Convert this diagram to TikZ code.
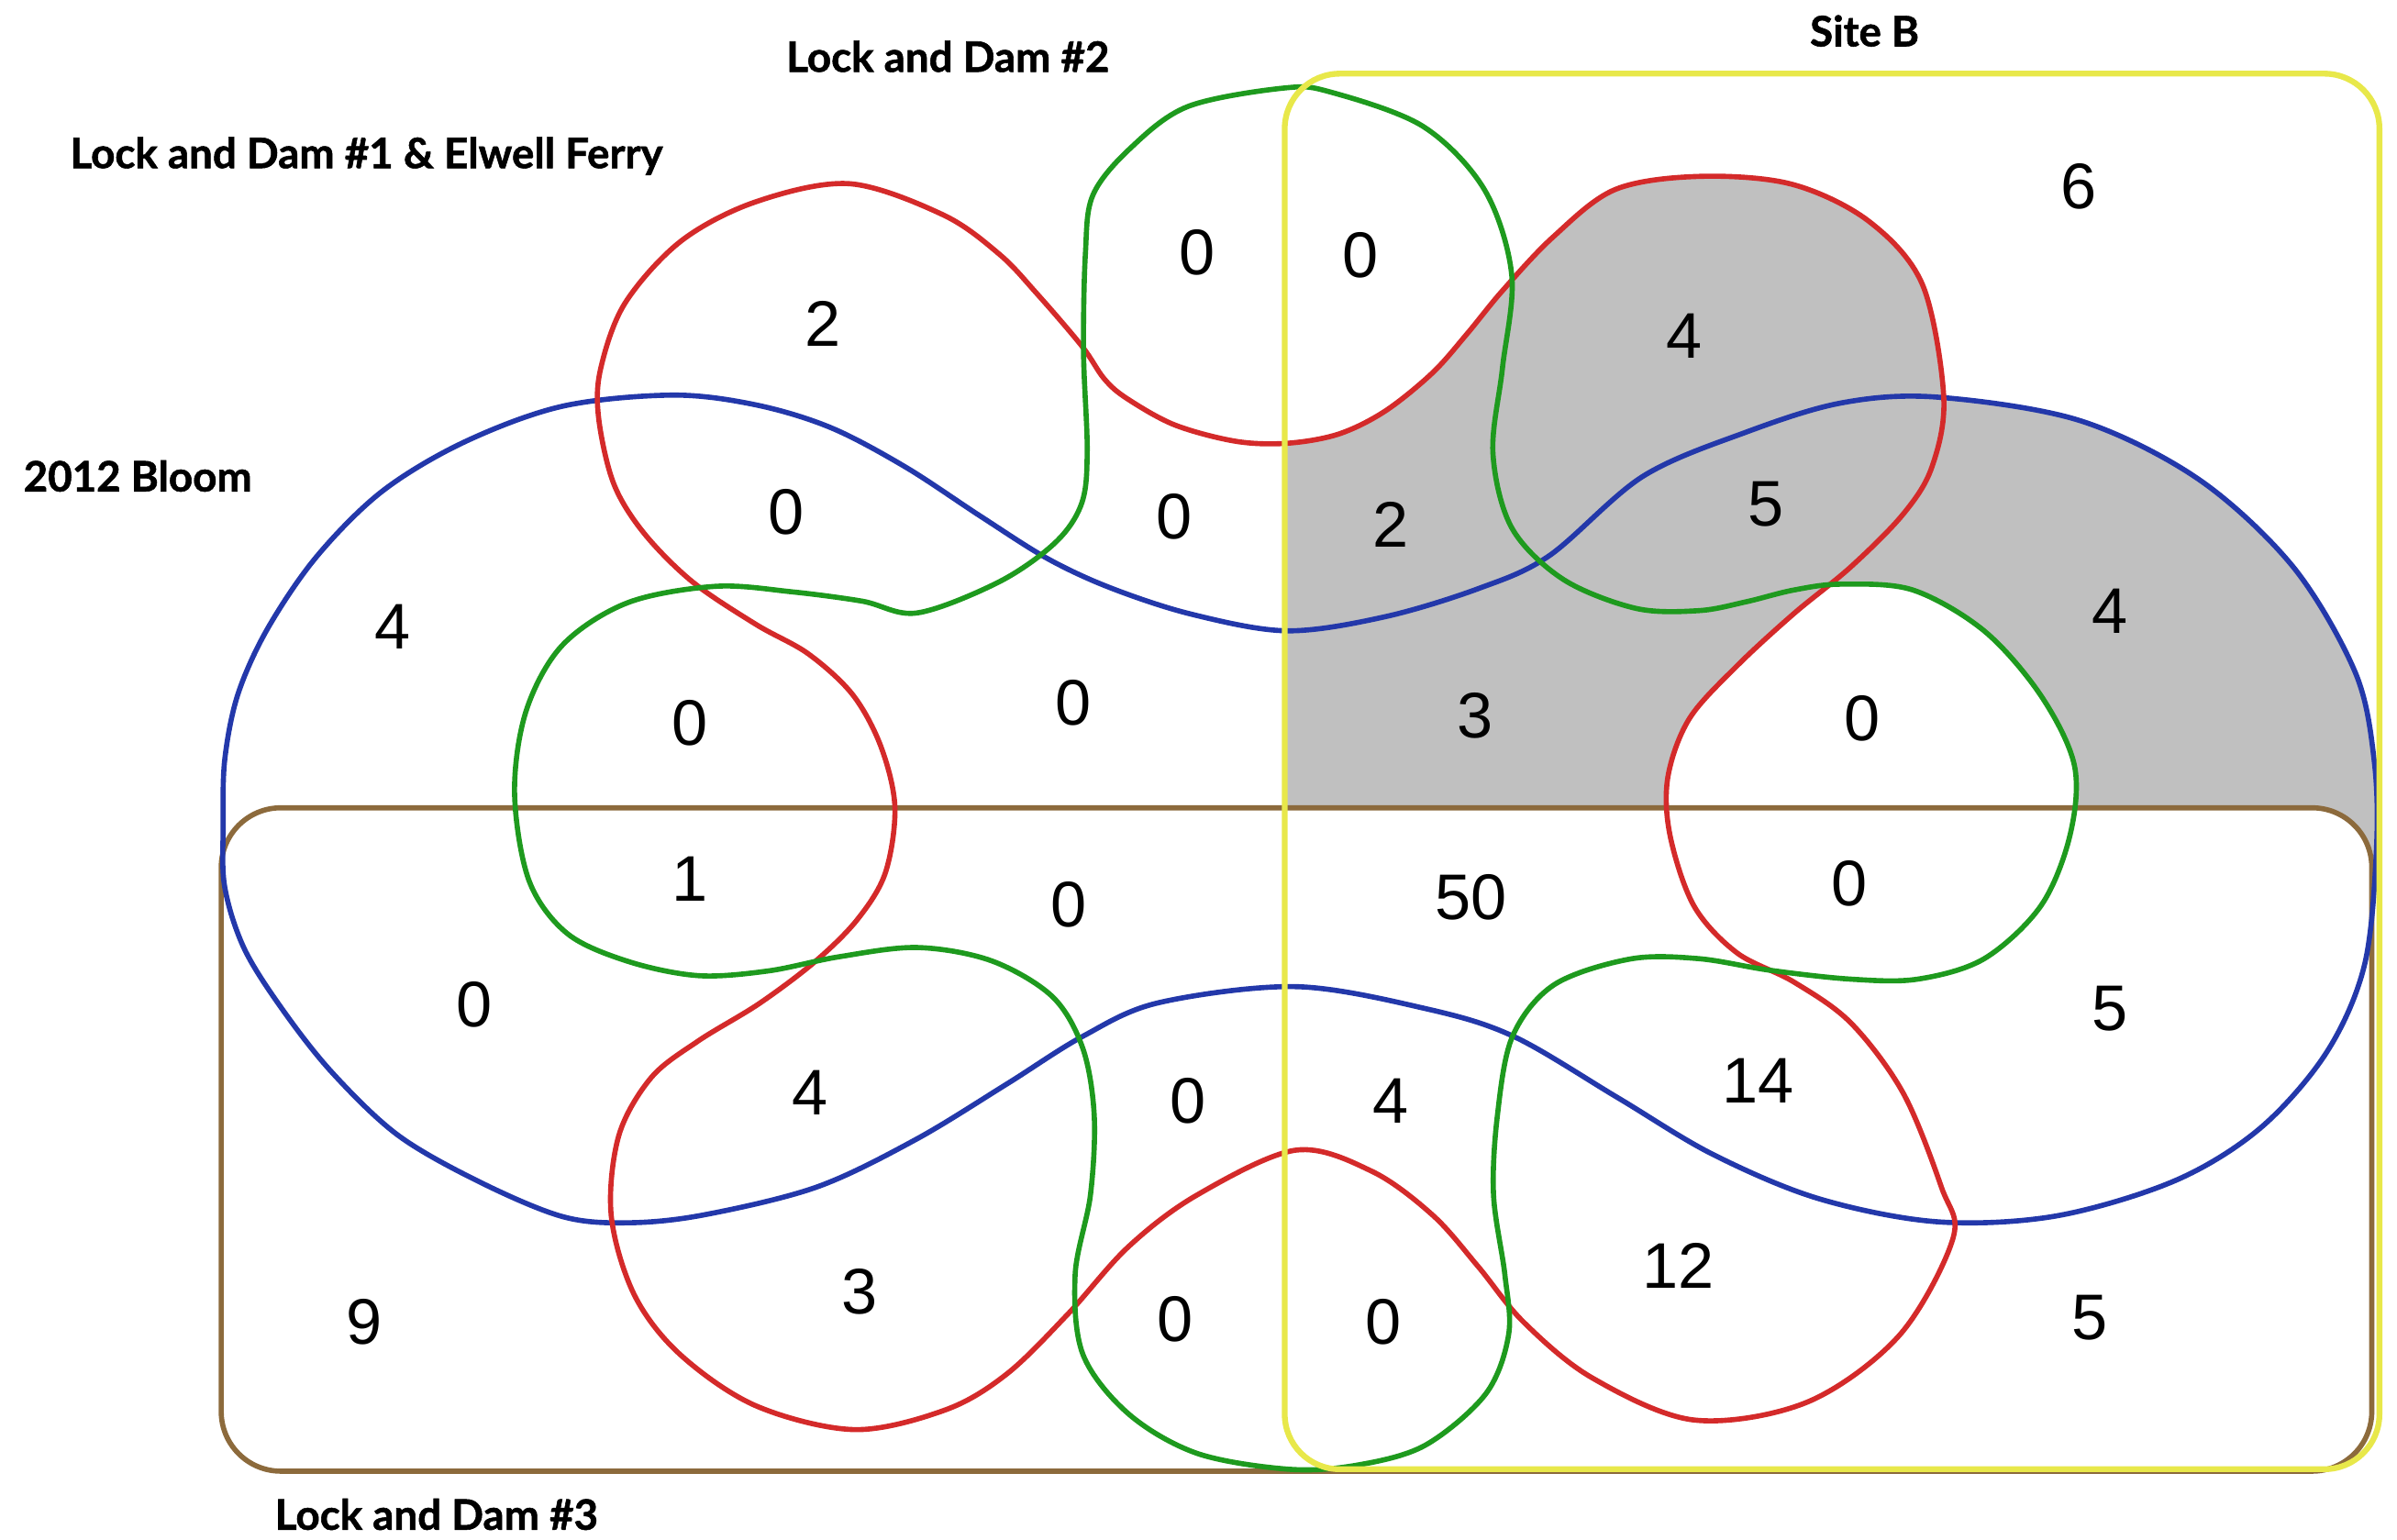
\documentclass[tikz,border=0pt]{standalone}
\usepackage{fontspec}
\setmainfont{Liberation Sans}
\newfontfamily\titlefont{Lato}[BoldFeatures={FakeBold=1.2}]
\definecolor{vblue}{HTML}{2338AA}
\definecolor{vred}{HTML}{D42A2A}
\definecolor{vgreen}{HTML}{1E9A1E}
\definecolor{vyellow}{HTML}{E8E84A}
\definecolor{vbrown}{HTML}{8C6A3C}
\definecolor{vgray}{HTML}{C0C0C0}
\begin{document}
\begin{tikzpicture}[x=0.016665cm,y=-0.016665cm,
  curve/.style={line width=1.6pt},
  num/.style={font=\fontsize{20}{24}\selectfont, inner sep=0pt},
  ttl/.style={font=\titlefont\bfseries\fontsize{13}{16}\selectfont, inner sep=0pt, anchor=base west}]
\useasboundingbox (0,0) rectangle (1568,1007.5);
\fill[white] (0,0) rectangle (1568,1007.5);

\def\bluepath{plot[smooth cycle, tension=0.55] coordinates {
 (146,540) (147,497.2) (155.6,454.3) (174.9,411.5) (207,364.3) (249.9,321.5) (303.5,289.3) (367.8,265.8) (440,258.5)
 (494.5,264.9) (543.5,279.8) (592.4,305.6) (641.5,337.8) (685.5,365.6) (727.2,384.9) (780,402) (842,412.7) (906,403.5)
 (967.3,385) (1013.4,363.6) (1074.6,311.7) (1142.3,282.7) (1204.6,263.6) (1266.8,259.8) (1360,275) (1438,313.4)
 (1500,370.8) (1540.6,439.7) (1553,497) (1554.6,554.5) (1546.8,631) (1522,688.4) (1478.4,738.2) (1422.4,772.6)
 (1344.6,795.6) (1266.8,799.3) (1189,784) (1120,755) (1058,718) (990,678) (932.2,659.8) (847.6,645.5) (758,656)
 (708.3,678) (658.6,709.2) (598.9,745.6) (534,776.7) (459.5,795) (410,800) (367.8,795.9) (314.2,773.5) (260.6,742.9)
 (217.8,702.3) (185.6,661.6) (159.9,620.9) (147,580.3)}}

\def\redpath{plot[smooth cycle, tension=0.55] coordinates {
 (842,290) (875.6,284) (906,269) (937,244) (960,218) (983,190) (1016,155) (1056.5,124) (1111.8,115.4) (1172,120.5)
 (1222.3,144.6) (1257.5,186) (1271.5,259.8) (1263.7,305.7) (1245,336.3) (1210.8,370.8) (1173.5,401.4) (1136.1,435.8)
 (1105,470.3) (1091,508.6) (1092.5,546.8) (1108.1,592.7) (1136.1,623.3) (1173.5,642.5) (1210.8,669.3) (1245,715.2)
 (1269.9,776.5) (1277.6,810) (1242.4,873.7) (1182,917.4) (1108,929) (1041.6,901.5) (996.8,865.1) (967,828.7) (937.2,795)
 (897.4,766.3) (847.5,752.5) (782.9,781.9) (738.1,815.7) (698.3,860) (658.6,898.9) (618.7,922.3) (559,935.3) (494.4,919.7)
 (444.6,885.9) (414.8,846.9) (399.8,795) (404.8,742.9) (426,705) (456.8,681) (496.6,656.6) (533.3,629) (560.9,601.5)
 (579.2,570.9) (585.4,528) (576.2,488.3) (557.8,454.5) (528.8,427.8) (494.5,408.5) (452.9,380.6) (421,348.5) (401.4,316.3)
 (391.6,273.5) (392.9,241.3) (408.8,198.4) (445.5,157.7) (494.5,132) (555.7,120.2) (617,140.6) (653.7,166.3) (678.2,192)
 (707.6,226.3) (722.3,247.8) (737,260.6) (768.4,278) (808.3,288.7)}}

\def\greenpath{plot[smooth cycle, tension=0.55] coordinates {
 (777,69.7) (840,57.6) (870.6,60.3) (930.9,82.7) (971,124) (988.9,180) (982.8,241) (976.6,296.4) (988.9,345.3) (1022.5,379)
 (1070,398) (1111.3,399.5) (1142.3,393.7) (1173.5,386) (1204.6,382.2) (1251.3,386) (1298,412.8) (1335,455) (1357,500.9)
 (1354,546.8) (1335,592.7) (1298,627.2) (1254.4,640.6) (1210.8,640.6) (1157.9,634.8) (1111.3,627.2) (1066.5,627.4)
 (1016.7,644.2) (989.4,678) (979.5,730) (977,781.9) (984.4,833.9) (986.9,872.9) (972,911.8) (932.2,945.6) (887.4,958.6)
 (842.6,961.2) (782.9,950.8) (738.1,924.9) (708.3,885.9) (703.3,833.9) (713.3,781.9) (715.8,730) (708.3,685.8) (688.4,652)
 (648.6,628.6) (600,619.9) (548.6,626) (502.7,635.2) (456.8,638.3) (410.9,629) (371,610.7) (346,576) (336.6,518.6)
 (344.2,465) (367.8,422.2) (410.6,394.3) (468,383.6) (518,387.2) (564,393.3) (600,401) (653.7,380.6) (690.4,354.9)
 (707.6,329.2) (711.2,294.9) (708.8,230.6) (710,166.3) (714.9,127.7) (739.4,97)}}

% shaded region
\begin{scope}
 \clip (840,48) rectangle (1557,962);
 \fill[vgray] \bluepath;
 \fill[white] \greenpath;
 \fill[vgray] \redpath;
\end{scope}
\fill[white, rounded corners=0.65cm] (144.7,528.5) rectangle (1551.5,962.5);

% outlines
\draw[curve, vbrown, rounded corners=0.65cm] (144.7,528.5) rectangle (1551.5,962.5);
\draw[curve, vblue] \bluepath;
\draw[curve, vred] \redpath;
\draw[curve, vgreen] \greenpath;
\draw[line width=1.8pt, vyellow, rounded corners=0.6cm] (840.4,48.2) rectangle (1556.5,961.2);

% numbers
\node[num] (a1) at (783,165) {0};
\node[num] (a2) at (890,167) {0};
\node[num] (a3) at (538,212) {2};
\node[num] (a4) at (1102,220) {4};
\node[num] (a5) at (1360,122) {6};
\node[num] (a6) at (514,335) {0};
\node[num] (a7) at (768,338) {0};
\node[num] (a8) at (910,343) {2};
\node[num] (a9) at (1155,330) {5};
\node[num] (a10) at (257,410) {4};
\node[num] (a11) at (1380,400) {4};
\node[num] (a12) at (451,473) {0};
\node[num] (a13) at (702,460) {0};
\node[num] (a14) at (965,468) {3};
\node[num] (a15) at (1218,470) {0};
\node[num] (a16) at (451,575) {1};
\node[num] (a17) at (699,592) {0};
\node[num] (a18) at (962,587) {50};
\node[num] (a19) at (1210,578) {0};
\node[num] (a20) at (310,657) {0};
\node[num] (a21) at (1380,660) {5};
\node[num] (a22) at (530,715) {4};
\node[num] (a23) at (777,720) {0};
\node[num] (a24) at (910,720) {4};
\node[num] (a25) at (1150,707) {14};
\node[num] (a26) at (562,845) {3};
\node[num] (a27) at (1098,828) {12};
\node[num] (a28) at (238,865) {9};
\node[num] (a29) at (769,863) {0};
\node[num] (a30) at (905,865) {0};
\node[num] (a31) at (1367,862) {5};

% titles
\node[ttl] (t1) at (45.5,110) {Lock and Dam \#1 \& Elwell Ferry};
\node[ttl] (t2) at (514,47) {Lock and Dam \#2};
\node[ttl] (t3) at (1183.6,30.3) {Site B};
\node[ttl] (t4) at (15,321.5) {2012 Bloom};
\node[ttl] (t5) at (179.5,1000.8) {Lock and Dam \#3};
\end{tikzpicture}
\end{document}
